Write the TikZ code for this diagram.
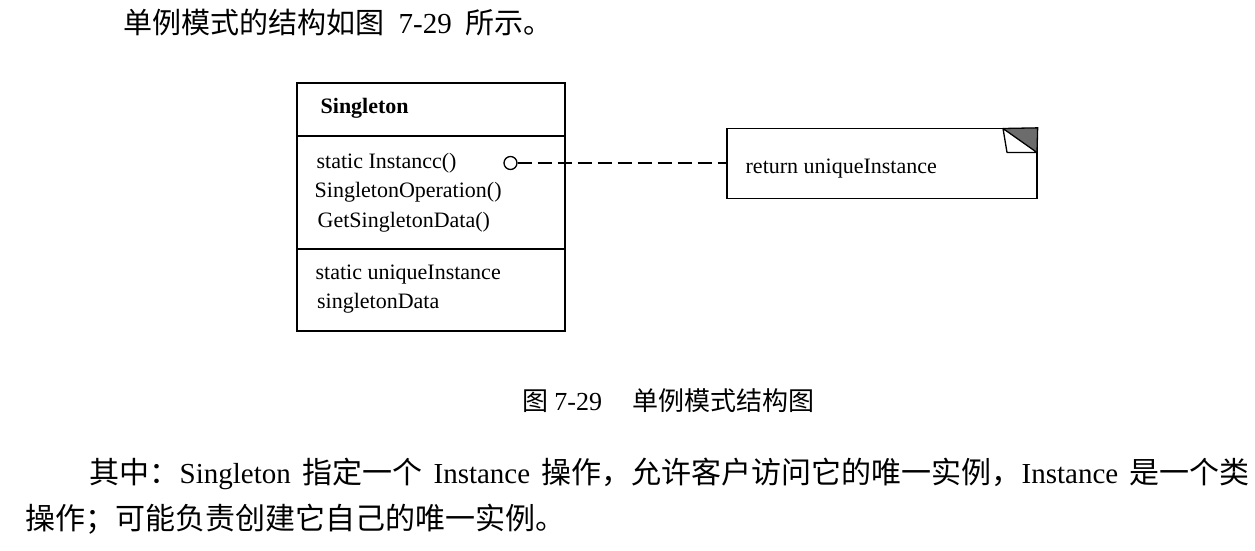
\documentclass[tikz,border=0pt]{standalone}
\usepackage{fontspec}
\setmainfont{Liberation Serif}
\newfontfamily\cjk{Noto Sans CJK SC}
\newcommand{\latin}[1]{{\rmfamily\fontsize{29}{34}\selectfont #1}}
\usetikzlibrary{positioning}
\begin{document}
\begin{tikzpicture}[x=1pt, y=-1pt, line width=1.3pt]
	\tikzset{texte/.style={inner sep=0pt, anchor=base west, font=\fontsize{22}{26}\selectfont},
	         titre/.style={texte, font=\fontsize{22}{26}\selectfont\bfseries},
	         chinois/.style={inner sep=0pt, anchor=west, font=\fontsize{29}{34}\selectfont\cjk},
	         paragraphe/.style={chinois, font=\fontsize{30}{34}\selectfont\cjk},
	         boite/.style={draw, inner sep=0pt},
	         pointille/.style={dash pattern=on 14pt off 6pt}};
	\useasboundingbox[fill=white] (0,0) rectangle (1255,551);

	% texte autour de la figure
	\node[chinois] (intro) at (123,22) {单例模式的结构如图\hspace{14pt}\latin{7-29}\hspace{14pt}所示。};
	\node[chinois, font=\fontsize{26}{30}\selectfont\cjk] (legende) at (522,401) {图 {\rmfamily 7-29}\hspace{30pt}单例模式结构图};
	\node[paragraphe] (ligne1) at (89,474) {\makebox[1160pt][s]{其中：\latin{Singleton} 指定一个 \latin{Instance} 操作，允许客户访问它的唯一实例，\latin{Instance} 是一个类}};
	\node[paragraphe] (ligne2) at (25,519.5) {操作；可能负责创建它自己的唯一实例。};

	% classe Singleton
	\node[boite, minimum width=268pt, minimum height=248pt] (classe) at (431,207) {};
	\coordinate (sep1) at (297,136);
	\coordinate (sep2) at (297,249);
	\draw (sep1) -- (sep1 -| classe.east);
	\draw (sep2) -- (sep2 -| classe.east);
	\node[titre] (nom) at (320,113) {Singleton};
	\node[texte] (op1) at (316,168) {static Instancc()};
	\node[texte] (op2) at (314,197) {SingletonOperation()};
	\node[texte] (op3) at (317,227) {GetSingletonData()};
	\node[texte] (att1) at (315,279) {static uniqueInstance};
	\node[texte] (att2) at (316.5,308) {singletonData};

	% note
	\node[boite, minimum width=310pt, minimum height=70pt] (note) at (882,163.5) {};
	\node[texte] (code) at (745,173) {return uniqueInstance};
	\fill[gray!85!black] (1003,128.5) -- (note.north east) -- (1037,152.5) -- cycle;
	\draw[line join=round] (1003,128.5) -- (1007,152.5) -- (1037,152.5) -- cycle;
	\draw (1003,128.5) -- (note.north east) -- (1037,152.5);

	% lien vers la note
	\node[draw, circle, inner sep=0pt, minimum size=13pt] (rond) at (510.5,163) {};
	\draw[pointille] (rond) -- (rond -| note.west);
\end{tikzpicture}
\end{document}
